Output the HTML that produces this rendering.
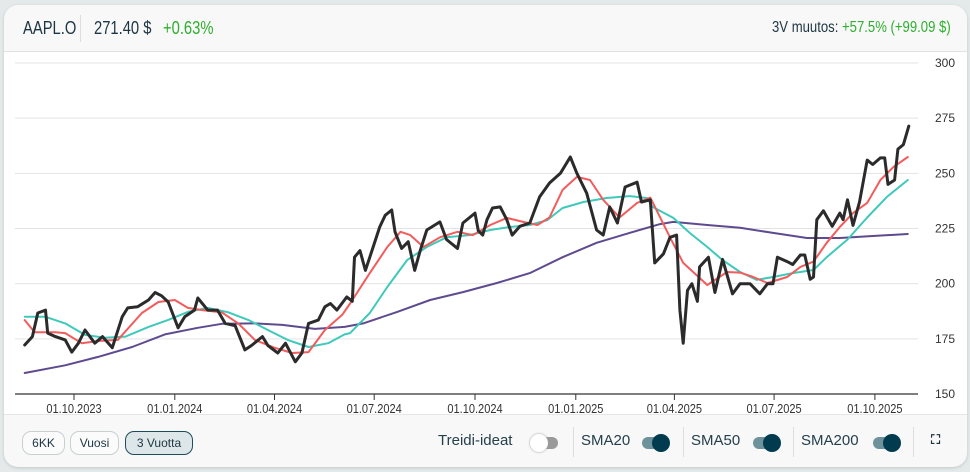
<!DOCTYPE html>
<html><head><meta charset="utf-8">
<style>
*{box-sizing:border-box;margin:0;padding:0}
body{width:970px;height:472px;background:#e4eaea;font-family:"Liberation Sans",sans-serif;color:#1d3542;overflow:hidden;position:relative}
#card{position:absolute;left:4px;top:5px;width:963px;height:462px;background:#f8f8f8;border-radius:14px;overflow:hidden;box-shadow:0 1px 3px rgba(0,0,0,.15)}
#hdr{position:absolute;left:0;top:0;width:100%;height:47px;border-bottom:1px solid #e2e2e2}
.t{position:absolute;top:13px;font-size:18px;white-space:nowrap;transform-origin:left center;transform:scaleX(.82)}
.g{color:#2fae2f}
#plot{position:absolute;left:0;top:47px;width:100%;height:363px;background:#fff;border-bottom:1px solid #e6e6e6}
#foot{position:absolute;left:0;top:410px;width:100%;height:52px}
.btn{position:absolute;top:16px;height:24px;border:1px solid #c9cfd1;border-radius:9px;font-size:12px;line-height:22px;text-align:center;background:#fbfbfb}
.lbl{position:absolute;top:17px;font-size:15px;color:#24404c}
.tg{position:absolute;top:22px;width:26px;height:12px;border-radius:6px;background:#6e929b}
.tg i{position:absolute;right:-2px;top:-3px;width:18px;height:18px;border-radius:50%;background:#003b50}
.sep{position:absolute;top:12px;width:1px;height:30px;background:#ddd}
</style></head><body>
<div id="card">
 <div id="hdr">
  <span class="t" style="left:19px">AAPL.O</span>
  <div style="position:absolute;left:76px;top:10px;width:1px;height:27px;background:#ddd"></div>
  <span class="t" style="left:90px">271.40 $</span>
  <span class="t g" style="left:159px">+0.63%</span>
  <span class="t" style="left:768px;font-size:16px;top:14px">3V muutos: <span class="g">+57.5% (+99.09 $)</span></span>
 </div>
 <div id="plot"></div>
 <div id="foot">
  <div class="btn" style="left:18px;width:43px">6KK</div>
  <div class="btn" style="left:66px;width:49px">Vuosi</div>
  <div class="btn" style="left:121px;width:68px;background:#dde7e9;border-color:#1f4c5a">3 Vuotta</div>
  <span class="lbl" style="left:434px">Treidi-ideat</span>
  <div class="tg" style="left:528px;background:#9a9a9a"><i style="left:-2px;right:auto;background:#fff;box-shadow:0 0 2px #999"></i></div>
  <div class="sep" style="left:569px"></div>
  <span class="lbl" style="left:577px">SMA20</span>
  <div class="tg" style="left:638px"><i></i></div>
  <div class="sep" style="left:679px"></div>
  <span class="lbl" style="left:687px">SMA50</span>
  <div class="tg" style="left:749px"><i></i></div>
  <div class="sep" style="left:789px"></div>
  <span class="lbl" style="left:797px">SMA200</span>
  <div class="tg" style="left:869px"><i></i></div>
  <div class="sep" style="left:909px"></div>
  <span style="position:absolute;left:927px;top:17px;font-size:13px;font-weight:bold">⛶</span>
 </div>
</div>
<svg id="chart" width="970" height="472" style="position:absolute;left:0;top:0"></svg>
<script>
// days since 2023-10-01
const priceDays=[-45,-38,-33,-26,-24,-17,-8,-2,4,10,19,26,35,44,49,58,68,74,80,86,95,101,110,113,122,131,138,147,156,162,172,177,186,193,202,208,214,223,229,234,240,249,254,256,261,266,270,279,284,290,293,299,305,311,316,322,334,340,350,355,366,369,373,377,382,389,395,400,407,416,425,434,444,453,459,468,477,483,489,496,503,514,518,526,530,538,544,550,553,556,560,564,569,571,579,585,592,601,608,617,626,633,638,642,651,656,663,667,672,675,678,684,692,699,702,706,711,717,724,729,736,740,743,749,752,757,762];
const priceVals=[172.2,176,186.7,188,177.6,176,174.5,169,173,179,173,176,171,185,189,189.5,192.6,196,194.5,191.7,180,185,188,193.5,188,188,182,181,170,172,176,172,168.6,173,164.6,168.6,182,183.5,189.5,191,188,194,192,212,215,206,212,225.7,231,233.4,223.5,216,219,206,215,224.3,228,220,216,227.5,232,224,222,229,234.3,234.8,229,222,226,227.5,239.3,245.6,250,257.4,250,241,224.3,222,234.8,227.5,243.8,246,237,238,209.4,213.5,221,222,188,173,197,200,192,207.6,212,196,211,195.4,200,200,195.4,200,200,212,210,208.7,213,213,202,203,229,233,226,232,229,238,226.4,237,256,254,257,257,245,247,261,263,271.4];
const sma20Days=[-45,-36,-17,-8,7,22,40,62,77,92,104,117,135,150,165,183,199,214,229,245,252,270,286,298,307,319,334,350,364,380,395,410,423,434,446,459,471,483,498,514,526,544,556,578,596,608,620,633,651,663,675,687,699,711,724,736,748,761];
const sma20Vals=[183.5,178,178,177.6,173,174,174.5,186.7,191.7,192.6,189,188,187,182,174.5,171,168.6,169,179,186,191,204.8,216.6,223.5,222,216.6,221,223.5,222,226.6,229.8,228,226.6,230,242.5,248.4,247,238,230,236.6,239,221,209.4,199.4,205.3,205,203,200.3,203,207.6,210,218.5,225.7,232,236.6,247,252.9,257.4];
const sma50Days=[-45,-26,-8,10,28,47,68,86,104,122,141,159,177,195,214,232,247,252,270,286,304,322,340,361,380,398,416,432,446,465,486,507,523,528,547,562,578,592,608,623,638,656,675,687,706,724,742,761];
const sma50Vals=[185,185,182,176.8,175.5,176,180.4,183.6,187.2,189,187,183.6,179,174.5,171.3,173,177,177.6,186.7,198.5,210.7,216.6,221,222,224.3,225.7,226.6,228.8,234.3,237,238.8,239.7,238.8,234.8,229.8,223,216.6,210.7,205.3,201.7,203,204.8,206.2,212,220,230,239.3,247];
const sma200Days=[-45,-8,22,53,83,113,135,165,190,220,247,264,295,325,355,386,416,446,477,507,535,547,578,608,638,669,699,729,761];
const sma200Vals=[159.5,163,166.8,171.3,177,180,181.8,182,181.3,179.5,180.4,182,187.2,192.6,196.2,200.3,204.8,212,218.5,223,227,228,226.6,225.3,223,220.7,220.7,221.6,222.5];
const yTicks=[150,175,200,225,250,275,300];
const xTickDays=[0,92,183,274,366,458,548,639,731];
const xTickLabels=["01.10.2023","01.01.2024","01.04.2024","01.07.2024","01.10.2024","01.01.2025","01.04.2025","01.07.2025","01.10.2025"];

const svg=document.getElementById('chart');
const NS='http://www.w3.org/2000/svg';
const X=d=>74+d*1.0956;
const Y=v=>394-(v-150)*(331/150);
function mk(t,a){const e=document.createElementNS(NS,t);for(const k in a)e.setAttribute(k,a[k]);svg.appendChild(e);return e;}
yTicks.forEach(v=>{
  const l=mk('line',{x1:15,x2:918,y1:Y(v),y2:Y(v),stroke:v===150?'#333':'#e3e3e3','stroke-width':v===150?1.3:1});
  
  
  const t=mk('text',{x:955,y:Y(v)+4,'text-anchor':'end','font-size':12,fill:'#333','font-family':'Liberation Sans, sans-serif'});
  t.textContent=v;
  
  
});
xTickDays.forEach((d,i)=>{
  const l=mk('line',{x1:X(d),x2:X(d),y1:394,y2:400,stroke:'#333'});
  
  
  const t=mk('text',{x:X(d),y:413,'text-anchor':'middle','font-size':13,fill:'#333','font-family':'Liberation Sans, sans-serif',transform:`translate(${X(d)},0) scale(0.85,1) translate(${-X(d)},0)`});
  t.textContent=xTickLabels[i];
  
  
});
function line(ds,vs,col,w,name){
  const p=mk('polyline',{points:ds.map((d,i)=>X(d).toFixed(1)+','+Y(vs[i]).toFixed(1)).join(' '),fill:'none',stroke:col,'stroke-width':w,'stroke-linejoin':'round','stroke-linecap':'round'});
  
  
}
line(sma200Days,sma200Vals,'#5e4b8f',2,'sma200-line');
line(sma50Days,sma50Vals,'#3fc9bb',2,'sma50-line');
line(sma20Days,sma20Vals,'#f25c5c',2,'sma20-line');
line(priceDays,priceVals,'#2b2b2b',3,'price-line');
</script>
</body></html>
